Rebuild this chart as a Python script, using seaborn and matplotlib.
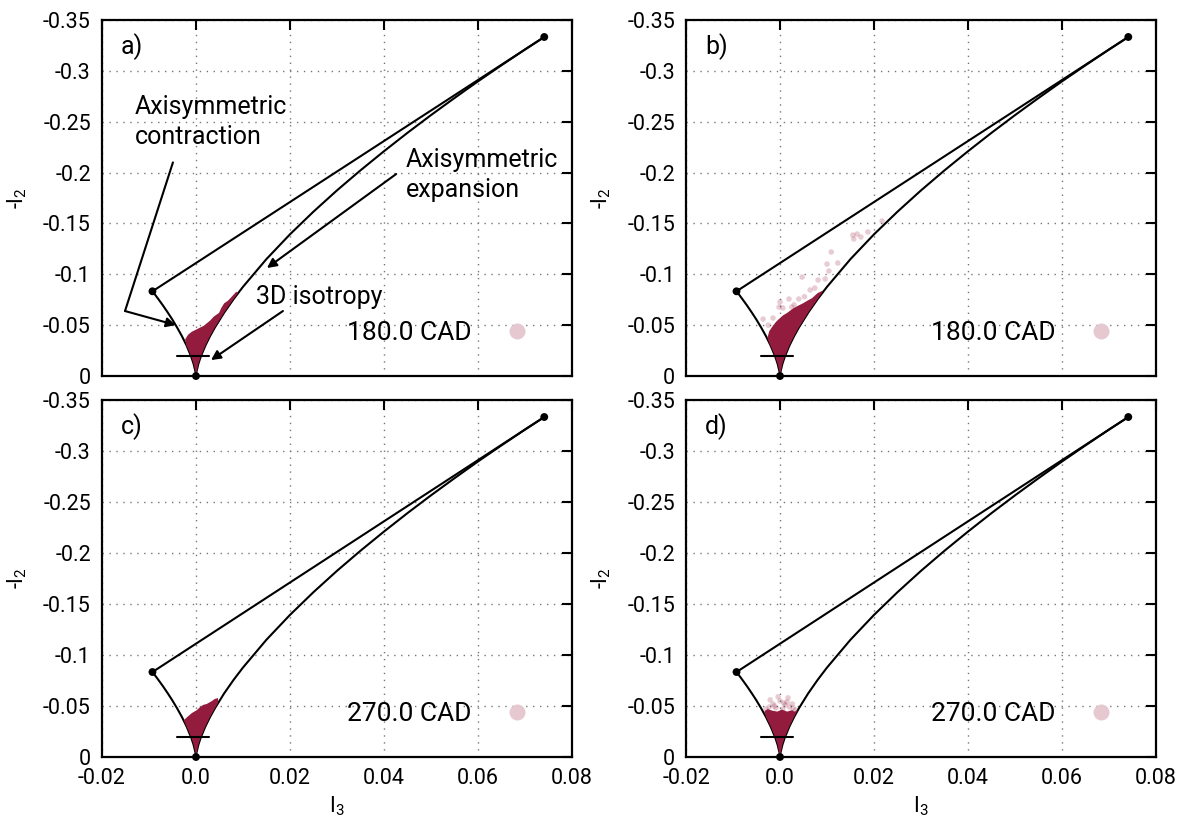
import matplotlib
matplotlib.use("Agg")
import matplotlib.pyplot as plt
import seaborn as sns
from matplotlib.lines import Line2D

# --- boundaries of the anisotropy invariant map
exp_i3 = [0.0, 0.0001, 0.0005, 0.001, 0.002, 0.003, 0.004, 0.006, 0.008, 0.01, 0.015, 0.02,
          0.025, 0.03, 0.035, 0.04, 0.045, 0.05, 0.055, 0.06, 0.065, 0.07, 0.0741]
exp_i2 = [0.0, -0.0041, -0.0119, -0.0189, -0.0300, -0.0393, -0.0476, -0.0624, -0.0756, -0.0877,
          -0.1150, -0.1393, -0.1616, -0.1825, -0.2022, -0.2210, -0.2391, -0.2565, -0.2733,
          -0.2897, -0.3055, -0.3210, -0.3333]
con_i3 = [0.0, -0.0001, -0.0005, -0.001, -0.002, -0.003, -0.004, -0.005, -0.006, -0.007,
          -0.008, -0.009, -0.00926]
con_i2 = [0.0, -0.0041, -0.0119, -0.0189, -0.0300, -0.0393, -0.0476, -0.0553, -0.0624,
          -0.0692, -0.0756, -0.0818, -0.0833]
twoc_i3 = [-0.00926, 0.0741]
twoc_i2 = [-0.0833, -0.3333]
corner_i3 = [0.0, -0.00926, 0.0741]
corner_i2 = [0.0, -0.0833, -0.3333]
mark_i3 = [-0.004, 0.0028]
mark_i2 = [-0.02, -0.02]

# --- dense clouds (outline of the sampled region) per panel
cloud_a_i3 = [0.0, 0.0005, 0.001, 0.002, 0.003, 0.004, 0.006, 0.008, 0.0089, 0.0086, 0.0077,
              0.0068, 0.0060, 0.0054, 0.0049, 0.0038, 0.0030, 0.0017, 0.0004, -0.0009, -0.0017,
              -0.0023, -0.0021, -0.0015, -0.0010, -0.0005, -0.0001, 0.0]
cloud_a_i2 = [0.0, -0.0119, -0.0189, -0.0300, -0.0393, -0.0476, -0.0624, -0.0756, -0.0815,
              -0.0830, -0.0785, -0.0740, -0.0715, -0.0670, -0.0620, -0.0585, -0.0545, -0.0495,
              -0.0465, -0.0435, -0.0405, -0.0360, -0.0305, -0.0245, -0.0189, -0.0119, -0.0041, 0.0]
cloud_b_i3 = [0.0, 0.0005, 0.001, 0.002, 0.003, 0.004, 0.006, 0.008, 0.0089, 0.0091, 0.0080,
              0.0068, 0.0058, 0.0049, 0.0038, 0.0028, 0.0015, 0.0006, 0.0, -0.0008, -0.0015,
              -0.0023, -0.0027, -0.0021, -0.0015, -0.0010, -0.0005, -0.0001, 0.0]
cloud_b_i2 = [0.0, -0.0119, -0.0189, -0.0300, -0.0393, -0.0476, -0.0624, -0.0756, -0.0815,
              -0.0840, -0.0815, -0.0765, -0.0740, -0.0715, -0.0690, -0.0665, -0.0620, -0.0595,
              -0.0570, -0.0535, -0.0495, -0.0440, -0.0370, -0.0305, -0.0245, -0.0189, -0.0119,
              -0.0041, 0.0]
cloud_c_i3 = [0.0, 0.0005, 0.001, 0.002, 0.003, 0.004, 0.0047, 0.0047, 0.0040, 0.0034, 0.0023,
              0.0015, 0.0009, 0.0002, -0.0009, -0.0019, -0.0026, -0.0020, -0.0015, -0.0010,
              -0.0005, -0.0001, 0.0]
cloud_c_i2 = [0.0, -0.0119, -0.0189, -0.0300, -0.0393, -0.0476, -0.0530, -0.0578, -0.0569,
              -0.0549, -0.0520, -0.0510, -0.0490, -0.0460, -0.0430, -0.0390, -0.0360, -0.0300,
              -0.0245, -0.0189, -0.0119, -0.0041, 0.0]
cloud_d_i3 = [0.0, 0.0005, 0.001, 0.002, 0.003, 0.0037, 0.0030, 0.0026, 0.0015, 0.0004, -0.0006,
              -0.0017, -0.0026, -0.0033, -0.0030, -0.0020, -0.0010, -0.0005, 0.0]
cloud_d_i2 = [0.0, -0.0119, -0.0189, -0.0300, -0.0393, -0.0455, -0.0445, -0.0460, -0.0445,
              -0.0465, -0.0445, -0.0455, -0.0470, -0.0450, -0.0393, -0.0300, -0.0189, -0.0119, 0.0]

# --- sparse samples outside the dense clouds
sparse_b_i3 = [0.0217, 0.0164, 0.0155, 0.0187, 0.0157, 0.0172, 0.0109, 0.0100, 0.0123, 0.0104,
               0.0047, 0.0081, 0.0096, 0.0064, 0.0074, 0.0019, 0.0040, 0.0000, 0.0006, -0.0036,
               -0.0015, 0.0025, -0.0002, 0.0052, 0.0030, -0.0025]
sparse_b_i2 = [-0.1524, -0.1396, -0.1386, -0.1416, -0.1347, -0.1367, -0.1219, -0.1101, -0.1111,
               -0.1032, -0.0973, -0.0944, -0.0954, -0.0846, -0.0865, -0.0757, -0.0757, -0.0728,
               -0.0669, -0.0560, -0.0570, -0.0678, -0.0678, -0.0780, -0.0700, -0.0500]
sparse_d_i3 = [-0.0021, -0.0015, 0.0, 0.0011, 0.0017, 0.0026, 0.0028, -0.0009, 0.0006, -0.0023,
               -0.0004, 0.0015, -0.0030, 0.0033, 0.0008, -0.0012, 0.0020]
sparse_d_i2 = [-0.056, -0.052, -0.055, -0.051, -0.058, -0.052, -0.048, -0.048, -0.047, -0.049,
               -0.059, -0.054, -0.047, -0.046, -0.053, -0.050, -0.049]

panel_letters = ["a)", "b)", "c)", "d)"]
legend_labels = ["180.0 CAD", "180.0 CAD", "270.0 CAD", "270.0 CAD"]
x_ticks = [-0.02, 0.0, 0.02, 0.04, 0.06, 0.08]
x_tick_labels = ["-0.02", "0.0", "0.02", "0.04", "0.06", "0.08"]
y_ticks = [0.0, -0.05, -0.1, -0.15, -0.2, -0.25, -0.3, -0.35]
y_tick_labels = ["0", "-0.05", "-0.1", "-0.15", "-0.2", "-0.25", "-0.3", "-0.35"]

clouds = [(cloud_a_i3, cloud_a_i2), (cloud_b_i3, cloud_b_i2),
          (cloud_c_i3, cloud_c_i2), (cloud_d_i3, cloud_d_i2)]
sparse = [None, (sparse_b_i3, sparse_b_i2), None, (sparse_d_i3, sparse_d_i2)]

cloud_color = "#921b3e"
key_color = "#e6c8d0"

sns.set_theme(style="white")
plt.rcParams["font.family"] = ["Roboto", "DejaVu Sans"]
plt.rcParams["mathtext.default"] = "regular"
plt.rcParams["text.color"] = "black"
plt.rcParams["axes.labelcolor"] = "black"
plt.rcParams["xtick.color"] = "black"
plt.rcParams["ytick.color"] = "black"

fig, axes = plt.subplots(2, 2, figsize=(11.83, 8.23), dpi=100)
positions = [[0.0862, 0.5431, 0.3973, 0.4326], [0.5799, 0.5431, 0.3973, 0.4326],
             [0.0862, 0.0802, 0.3973, 0.4338], [0.5799, 0.0802, 0.3973, 0.4338]]

for k, ax in enumerate(axes.flat):
    ax.set_position(positions[k])

    # boundaries
    sns.lineplot(x=exp_i3, y=exp_i2, sort=False, estimator=None, color="black", lw=1.5, ax=ax)
    sns.lineplot(x=con_i3, y=con_i2, sort=False, estimator=None, color="black", lw=1.5, ax=ax)
    sns.lineplot(x=twoc_i3, y=twoc_i2, sort=False, estimator=None, color="black", lw=1.5, ax=ax)

    # data cloud
    cx, cy = clouds[k]
    ax.fill(cx, cy, color=cloud_color, lw=0, zorder=3)
    if sparse[k] is not None:
        sns.scatterplot(x=sparse[k][0], y=sparse[k][1], color=cloud_color, alpha=0.22, s=16,
                        edgecolor="none", ax=ax, zorder=3, legend=False)

    ax.plot(mark_i3, mark_i2, color="black", lw=1.5, zorder=4)
    sns.scatterplot(x=corner_i3, y=corner_i2, color="black", s=32, edgecolor="none",
                    ax=ax, zorder=5, legend=False, clip_on=False)

    ax.set_xlim(-0.02, 0.08)
    ax.set_ylim(0.0, -0.35)
    ax.set_xticks(x_ticks)
    ax.set_yticks(y_ticks)
    ax.set_yticklabels(y_tick_labels)
    if k >= 2:
        ax.set_xticklabels(x_tick_labels)
        ax.set_xlabel("I$_3$", fontsize=15.5, labelpad=4)
    else:
        ax.set_xticklabels([])
    ax.set_ylabel("-I$_2$", fontsize=15.5, labelpad=10)

    ax.tick_params(direction="in", length=7, width=1.5, top=True, right=True,
                   labelsize=15.5, pad=8)
    ax.grid(True, color="#777777", linestyle=(0, (1, 4)), lw=1.0)
    for s in ax.spines.values():
        s.set_linewidth(1.6)
        s.set_color("black")

    ax.text(0.04, 0.925, panel_letters[k], transform=ax.transAxes, fontsize=18,
            ha="left", va="center")

    handle = Line2D([], [], marker="o", ls="", markersize=11.5,
                    markerfacecolor=key_color, markeredgecolor="none")
    ax.legend([handle], [legend_labels[k]], loc="center right", bbox_to_anchor=(0.9106, 0.121),
              frameon=False, markerfirst=False, handlelength=1.0, handletextpad=1.2,
              borderpad=0, borderaxespad=0, fontsize=19)

# annotations in panel a
ax = axes[0, 0]
ax.text(-0.013, -0.2498, "Axisymmetric\ncontraction", fontsize=18, ha="left", va="center",
        linespacing=1.3)
ax.plot([-0.0049, -0.0151], [-0.210, -0.0639], color="black", lw=1.5)
ax.annotate("", xy=(-0.0043, -0.0501), xytext=(-0.0151, -0.0639),
            arrowprops=dict(arrowstyle="-|>", color="black", lw=1.5, shrinkA=0, shrinkB=0,
                            mutation_scale=14))
ax.text(0.0447, -0.1976, "Axisymmetric\nexpansion", fontsize=18, ha="left", va="center",
        linespacing=1.3)
ax.annotate("", xy=(0.0151, -0.1062), xytext=(0.0426, -0.1986),
            arrowprops=dict(arrowstyle="-|>", color="black", lw=1.5, shrinkA=0, shrinkB=0,
                            mutation_scale=14))
ax.text(0.0128, -0.0777, "3D isotropy", fontsize=18, ha="left", va="center")
ax.annotate("", xy=(0.0032, -0.0157), xytext=(0.0185, -0.0639),
            arrowprops=dict(arrowstyle="-|>", color="black", lw=1.5, shrinkA=0, shrinkB=0,
                            mutation_scale=14))

fig.savefig("out.png", dpi=100)
